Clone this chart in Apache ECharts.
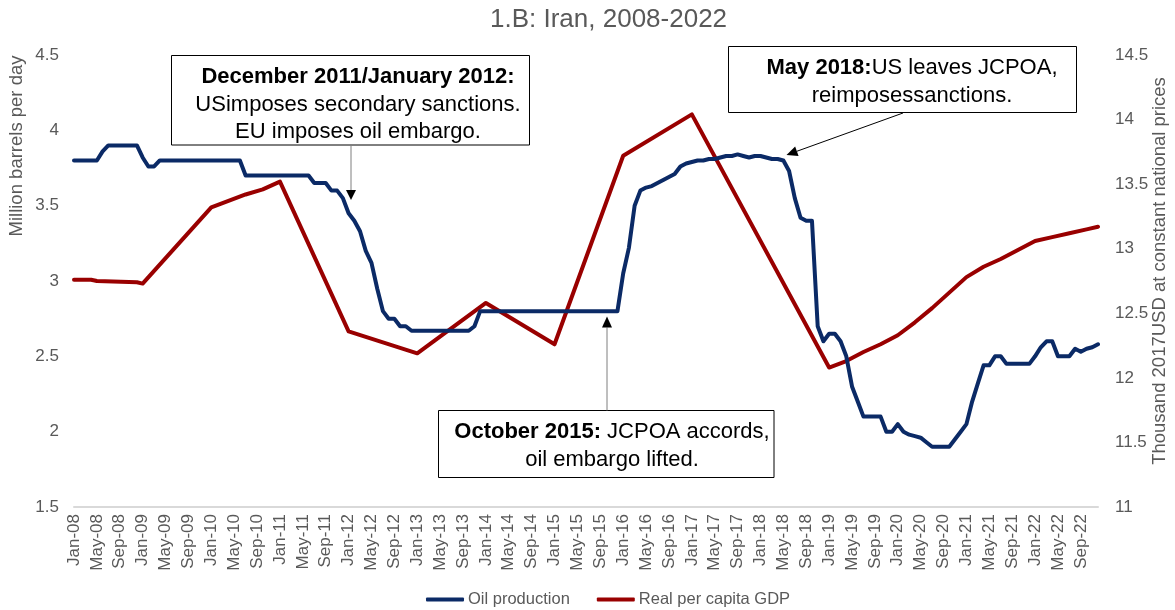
<!DOCTYPE html>
<html><head><meta charset="utf-8">
<script src="https://cdn.jsdelivr.net/npm/echarts@6/dist/echarts.min.js"></script>
<style>html,body{margin:0;padding:0;background:#fff}#c{width:1175px;height:610px}</style>
</head><body><div id="c"></div>
<script>
const monthNames = ['Jan','Feb','Mar','Apr','May','Jun','Jul','Aug','Sep','Oct','Nov','Dec'];
const years = ['08','09','10','11','12','13','14','15','16','17','18','19','20','21','22'];
const categories = [];
years.forEach(y => monthNames.forEach(m => categories.push(m + '-' + y)));

// Oil production, million barrels per day (monthly, Jan-08 .. Dec-22)
const oilProduction = [
  3.8,3.8,3.8,3.8,3.8,3.86,3.9,3.9,3.9,3.9,3.9,3.9,
  3.82,3.76,3.76,3.8,3.8,3.8,3.8,3.8,3.8,3.8,3.8,3.8,
  3.8,3.8,3.8,3.8,3.8,3.8,3.7,3.7,3.7,3.7,3.7,3.7,
  3.7,3.7,3.7,3.7,3.7,3.7,3.65,3.65,3.65,3.6,3.6,3.55,
  3.45,3.4,3.33,3.2,3.12,2.95,2.8,2.75,2.75,2.7,2.7,2.67,
  2.67,2.67,2.67,2.67,2.67,2.67,2.67,2.67,2.67,2.67,2.7,2.8,
  2.8,2.8,2.8,2.8,2.8,2.8,2.8,2.8,2.8,2.8,2.8,2.8,
  2.8,2.8,2.8,2.8,2.8,2.8,2.8,2.8,2.8,2.8,2.8,2.8,
  3.05,3.22,3.5,3.6,3.62,3.63,3.65,3.67,3.69,3.71,3.76,3.78,
  3.79,3.8,3.8,3.81,3.81,3.82,3.83,3.83,3.84,3.83,3.82,3.83,
  3.83,3.82,3.81,3.81,3.8,3.73,3.55,3.42,3.4,3.4,2.7,2.6,
  2.65,2.65,2.6,2.5,2.3,2.2,2.1,2.1,2.1,2.1,2.0,2.0,
  2.05,2.0,1.98,1.97,1.96,1.93,1.9,1.9,1.9,1.9,1.95,2.0,
  2.05,2.2,2.32,2.44,2.44,2.5,2.5,2.45,2.45,2.45,2.45,2.45,
  2.5,2.56,2.6,2.6,2.5,2.5,2.5,2.55,2.53,2.55,2.56,2.58
];

// Real per capita GDP, thousand 2017 USD (points where the line bends)
const gdpMonths = ['Jan-08','Apr-08','May-08','Dec-08','Jan-09','Jan-10','Apr-10','Jul-10','Oct-10','Jan-11',
  'Jan-12','Jan-13','Jan-14','Jan-15','Jan-16','Jan-17','Jan-19','Apr-19','Jul-19','Oct-19',
  'Jan-20','Apr-20','Jul-20','Oct-20','Jan-21','Apr-21','Jul-21','Oct-21','Jan-22','Apr-22','Jul-22','Oct-22','Dec-22'];
const gdpValues = [12.76,12.76,12.75,12.74,12.73,13.32,13.37,13.42,13.46,13.52,
  12.36,12.19,12.58,12.26,13.72,14.04,12.08,12.13,12.20,12.26,
  12.33,12.43,12.54,12.66,12.78,12.86,12.92,12.99,13.06,13.09,13.12,13.15,13.17];

const leftTicks = {min: 1.5, max: 4.5, interval: 0.5};
const rightTicks = {min: 11, max: 14.5, interval: 0.5};

const FONT = '"Liberation Sans", Arial, sans-serif';
const GREY = '#595959';

function arrow(x1, y1, x2, y2, color, head) {
  const dx = x2 - x1, dy = y2 - y1, L = Math.hypot(dx, dy);
  const ux = dx / L, uy = dy / L, hl = head || 10, hw = 5;
  const bx = x2 - ux * hl, by = y2 - uy * hl;
  return [
    {type: 'line', shape: {x1: x1, y1: y1, x2: bx, y2: by}, style: {stroke: color, lineWidth: 1}, z: 100},
    {type: 'polygon', shape: {points: [[x2, y2], [bx - uy * hw, by + ux * hw], [bx + uy * hw, by - ux * hw]]},
      style: {fill: '#000'}, z: 100}
  ];
}
function box(x, y, w, h) {
  return {type: 'rect', shape: {x: x, y: y, width: w, height: h},
    style: {fill: '#fff', stroke: '#000', lineWidth: 1}, z: 99};
}
function label(x, y, text) {
  return {type: 'text', x: x, y: y, z: 101, style: {
    text: text, align: 'center', verticalAlign: 'middle', lineHeight: 27.5,
    font: '22px ' + FONT, fill: '#000',
    rich: {
      b: {fontFamily: FONT, fontSize: 22, fontWeight: 'bold', fill: '#000', lineHeight: 27.5},
      n: {fontFamily: FONT, fontSize: 22, fill: '#000', lineHeight: 27.5}
    }
  }};
}

const chart = echarts.init(document.getElementById('c'), null, {renderer: 'canvas'});
chart.setOption({
  animation: false,
  backgroundColor: '#fff',
  title: {text: '1.B: Iran, 2008-2022', left: 485, top: 2,
    textStyle: {fontFamily: FONT, fontSize: 26, fontWeight: 'normal', color: GREY}},
  grid: {left: 74, right: 77, top: 55, bottom: 103, containLabel: false},
  legend: {
    left: 421, top: 586, itemWidth: 38, itemHeight: 4, itemGap: 27, icon: 'roundRect',
    textStyle: {fontFamily: FONT, fontSize: 16.5, color: GREY, padding: [0, 0, 0, -1]},
    data: ['Oil production', 'Real per capita GDP']
  },
  xAxis: {
    type: 'category', data: categories, boundaryGap: false,
    axisLine: {show: true, lineStyle: {color: '#d9d9d9', width: 2}},
    axisTick: {show: false},
    axisLabel: {interval: 3, rotate: 90, margin: 7, fontFamily: FONT, fontSize: 17, color: GREY},
    splitLine: {show: false}
  },
  yAxis: [
    {type: 'value', min: leftTicks.min, max: leftTicks.max, interval: leftTicks.interval,
      axisLine: {show: false}, axisTick: {show: false}, splitLine: {show: false},
      axisLabel: {margin: 15, fontFamily: FONT, fontSize: 17, color: GREY}},
    {type: 'value', min: rightTicks.min, max: rightTicks.max, interval: rightTicks.interval,
      axisLine: {show: false}, axisTick: {show: false}, splitLine: {show: false},
      axisLabel: {margin: 17, fontFamily: FONT, fontSize: 17, color: GREY}}
  ],
  series: [
    {name: 'Oil production', type: 'line', yAxisIndex: 0, data: oilProduction,
      showSymbol: false, symbol: 'none', color: '#0B2A66',
      lineStyle: {color: '#0B2A66', width: 4, join: 'round', cap: 'round'}, z: 3},
    {name: 'Real per capita GDP', type: 'line', yAxisIndex: 1,
      data: gdpMonths.map((m, i) => [m, gdpValues[i]]),
      showSymbol: false, symbol: 'none', color: '#990000',
      lineStyle: {color: '#990000', width: 4, join: 'round', cap: 'round'}, z: 2}
  ],
  graphic: [
    {type: 'text', x: 17, y: 146, rotation: Math.PI / 2, z: 50,
      style: {text: 'Million barrels per day', align: 'center', verticalAlign: 'middle',
        font: '18.5px ' + FONT, fill: GREY}},
    {type: 'text', x: 1160, y: 271, rotation: Math.PI / 2, z: 50,
      style: {text: 'Thousand 2017USD at constant national prices', align: 'center', verticalAlign: 'middle',
        font: '18.5px ' + FONT, fill: GREY}},
    box(171.5, 55.5, 358, 89.5),
    label(358, 104.5, '{b|December 2011/January 2012:}\n{n|USimposes secondary sanctions.}\n{n|EU imposes oil embargo.}'),
    ...arrow(351, 145, 351, 200, '#7f7f7f', 10),
    box(438.5, 410.5, 335.5, 67),
    label(612, 446, '{b|October 2015:}{n| JCPOA accords,}\n{n|oil embargo lifted.}'),
    ...arrow(607, 410.5, 607, 316.5, '#7f7f7f', 11),
    box(728.5, 46.5, 348, 66),
    label(912, 82, '{b|May 2018:}{n|US leaves JCPOA,}\n{n|reimposessanctions.}'),
    ...arrow(903, 113, 786.5, 155, '#000', 11)
  ]
});
</script></body></html>
